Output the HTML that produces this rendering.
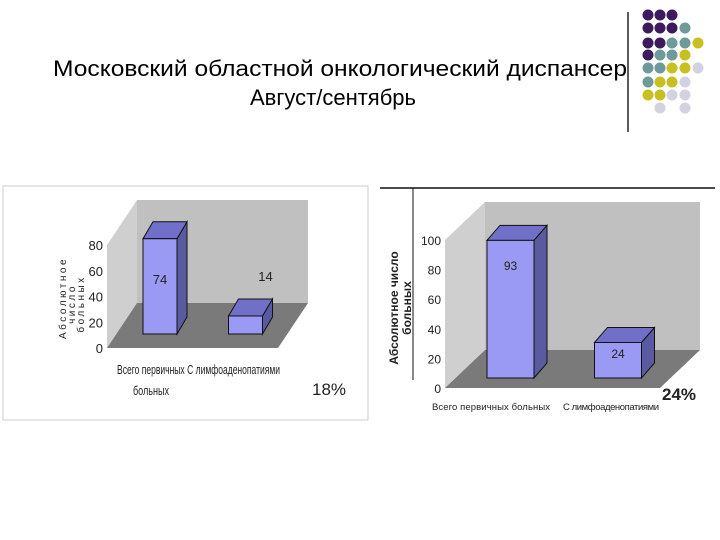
<!DOCTYPE html>
<html><head><meta charset="utf-8"><style>
body{margin:0;background:#fff;width:720px;height:540px;overflow:hidden;font-family:"Liberation Sans",sans-serif}
svg{position:absolute;left:0;top:0}
</style></head><body>
<svg width="720" height="540" font-family="Liberation Sans, sans-serif">
<text x="340" y="76" font-size="22" text-anchor="middle" textLength="574" lengthAdjust="spacingAndGlyphs">Московский областной онкологический диспансер</text>
<text x="333" y="105" font-size="22" text-anchor="middle">Август/сентябрь</text>
<line x1="628" y1="12" x2="628" y2="132" stroke="#222" stroke-width="1.5"/>
<g id="dots"></g>
<rect x="3" y="186" width="365" height="234" fill="#fff" stroke="#ccc"/>
<g id="left"></g>
<line x1="380" y1="188" x2="715" y2="188" stroke="#111" stroke-width="1.5"/>
<line x1="413" y1="188" x2="413" y2="380" stroke="#111" stroke-width="1"/>
<g id="right"></g>
</svg>
<script>
const leftCategories=["Всего первичных больных","С лимфоаденопатиями"];
const leftValues=[74,14];
const leftTicks=[0,20,40,60,80];
const rightCategories=["Всего первичных больных","С лимфоаденопатиями"];
const rightValues=[93,24];
const rightTicks=[0,20,40,60,80,100];
const NS="http://www.w3.org/2000/svg";
function mk(p,t,a){const e=document.createElementNS(NS,t);for(const k in a)e.setAttribute(k,a[k]);p.appendChild(e);return e;}
const dotCols=[648,660,672,685,698],dotRows=[15,28,43,55,68,82,95,108];
const C={P:"#3d1a5e",T:"#6e9a9a",Y:"#c8c020",L:"#d2d2e2"};
const pat=["PPP..","PPPT.","PPTTY","PTTY.","TTYYL","TYYL.","YYLL.",".L.L."];
const dg=document.getElementById('dots');
pat.forEach((r,i)=>[...r].forEach((c,j)=>{if(c!=='.'){const d=mk(dg,'circle',{cx:dotCols[j],cy:dotRows[i],r:5.5,fill:C[c]});

}}));
function chart(g,o,cats,vals,ticks){
 const y=v=>o.y0-(v/o.max)*(o.y0-o.yTop);
 const h=v=>(v/o.max)*(o.y0-o.yTop);
 mk(g,'polygon',{points:`${o.x0},${y(o.max)} ${o.x0+o.dx},${y(o.max)-o.dy} ${o.x0+o.dx},${o.y0-o.dy} ${o.x0},${o.y0}`,fill:"#cfcfcf"});
 mk(g,'polygon',{points:`${o.x0+o.dx},${y(o.max)-o.dy} ${o.x1+o.dx},${y(o.max)-o.dy} ${o.x1+o.dx},${o.y0-o.dy} ${o.x0+o.dx},${o.y0-o.dy}`,fill:"#c0c0c0"});
 mk(g,'polygon',{points:`${o.x0},${o.y0} ${o.x0+o.dx},${o.y0-o.dy} ${o.x1+o.dx},${o.y0-o.dy} ${o.x1},${o.y0}`,fill:"#7a7a7a"});
 ticks.forEach(t=>{const tx=mk(g,'text',{x:o.x0-4,y:y(t)+5,"font-size":o.fs,"text-anchor":"end",fill:"#222"});tx.textContent=t;
 
 });
 const slot=(o.x1-o.x0)/cats.length;
 vals.forEach((v,i)=>{
  const bx=o.x0+slot*i+o.bOff,bw=o.bw,bb=o.y0-o.lift,bt=bb-h(v);
  const bg=mk(g,'g',{});
  
  
  mk(bg,'polygon',{points:`${bx+bw},${bt} ${bx+bw+o.bdx},${bt-o.bdy} ${bx+bw+o.bdx},${bb-o.bdy} ${bx+bw},${bb}`,fill:"#5a5aa0",stroke:"#111"});
  mk(bg,'polygon',{points:`${bx},${bt} ${bx+o.bdx},${bt-o.bdy} ${bx+bw+o.bdx},${bt-o.bdy} ${bx+bw},${bt}`,fill:"#7070c8",stroke:"#111"});
  mk(bg,'rect',{x:bx,y:bt,width:bw,height:Math.max(0,bb-bt),fill:"#9a9af5",stroke:"#111"});
  const lt=mk(g,'text',{x:bx+bw/2+o.lx[i],y:o.ly[i],"font-size":o.fs,"text-anchor":"middle",fill:"#222"});lt.textContent=v;
  
  
 });
}
chart(document.getElementById('left'),{x0:107,x1:278,y0:348,yTop:245,max:80,dx:30,dy:45,fs:13,bOff:36,bw:34,bdx:10,bdy:17,lift:14,lx:[0,20],ly:[284,281]},leftCategories,leftValues,leftTicks);
chart(document.getElementById('right'),{x0:445,x1:660,y0:388,yTop:240,max:100,dx:40,dy:38,fs:12,bOff:42,bw:47,bdx:13,bdy:15,lift:10,lx:[0,0],ly:[270,358]},rightCategories,rightValues,rightTicks);
const L=document.getElementById('left'),R=document.getElementById('right');
function txt(p,x,y,s,fs,extra,name){const t=mk(p,'text',Object.assign({x:x,y:y,"font-size":fs,fill:"#222"},extra||{}));t.textContent=s;

return t;}
txt(L,117,374,"Всего первичных  С лимфоаденопатиями",13,{textLength:163,lengthAdjust:"spacingAndGlyphs"},"x-category-labels");
txt(L,133,395,"больных",13,{textLength:36,lengthAdjust:"spacingAndGlyphs"},"x-category-label-2");
txt(L,312,395,"18%",17,{},"percent-left");
txt(L,0,0,"Абсолютное",10,{transform:"translate(66,298) rotate(-90)","text-anchor":"middle","letter-spacing":"2.5"},"y-axis-title-left");
txt(L,0,0,"число",10,{transform:"translate(75,304) rotate(-90)","text-anchor":"middle","letter-spacing":"2.5"},"y-axis-title-left-2");
txt(L,0,0,"больных",10,{transform:"translate(84,304) rotate(-90)","text-anchor":"middle","letter-spacing":"2.5"},"y-axis-title-left-3");
txt(R,432,410,"Всего первичных больных",9.5,{textLength:118},"x-category-label-1");
txt(R,563,410,"С лимфоаденопатиями",9.5,{textLength:96},"x-category-label-2");
txt(R,662,400,"24%",17,{"font-weight":"bold"},"percent-right");
txt(R,0,0,"Абсолютное число",12,{transform:"translate(398,308) rotate(-90)","text-anchor":"middle","font-weight":"bold"},"y-axis-title-right");
txt(R,0,0,"больных",12,{transform:"translate(411,308) rotate(-90)","text-anchor":"middle","font-weight":"bold"},"y-axis-title-right-2");
</script>
</body></html>
